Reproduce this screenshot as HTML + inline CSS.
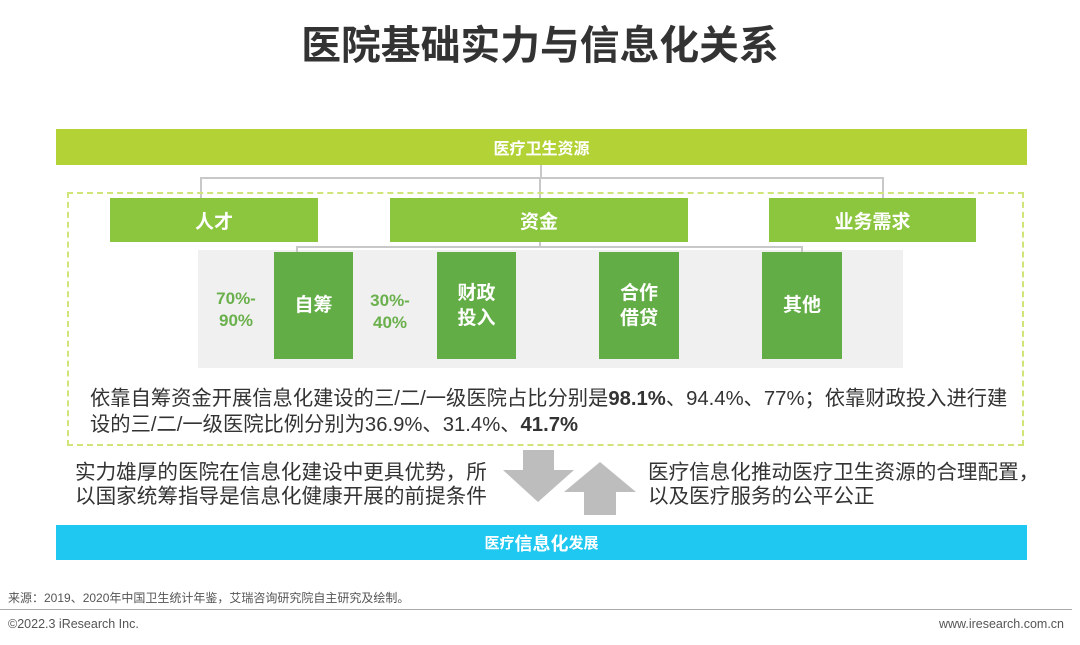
<!DOCTYPE html>
<html><head><meta charset="utf-8"><style>
*{margin:0;padding:0;box-sizing:border-box}
body{width:1080px;height:645px;background:#fff;position:relative;overflow:hidden;font-family:"Liberation Sans","Noto Sans CJK SC",sans-serif;color:#333}
.a{position:absolute}
.c{display:flex;align-items:center;justify-content:center;text-align:center;color:#fff;font-weight:bold}
.g{background:#8cc63f;font-size:19px}
.d{background:#62ad45;font-size:19px;line-height:25px}
.p{color:#6ab04c;font-weight:bold;font-size:17px;line-height:22px;text-align:center}
.t{font-size:20.6px;line-height:24px;color:#333;white-space:nowrap}
.ln{background:#c8c8c8}
</style></head><body>
<div class="a" style="left:0;top:21px;width:1080px;text-align:center;font-size:39.8px;font-weight:bold;color:#333;line-height:50px">医院基础实力与信息化关系</div>
<div class="a c" style="left:56px;top:129px;width:971px;height:36px;background:#b2d235;font-size:16px">医疗卫生资源</div>
<div class="a ln" style="left:540px;top:165px;width:2px;height:13px"></div>
<div class="a ln" style="left:200px;top:177px;width:684px;height:2px"></div>
<div class="a ln" style="left:200px;top:177px;width:2px;height:21px"></div>
<div class="a ln" style="left:539px;top:177px;width:2px;height:21px"></div>
<div class="a ln" style="left:882px;top:177px;width:2px;height:21px"></div>
<div class="a" style="left:67px;top:192px;width:957px;height:254px;border:2px dashed #cfe57a"></div>
<div class="a c g" style="left:110px;top:198px;width:208px;height:44px">人才</div>
<div class="a c g" style="left:390px;top:198px;width:298px;height:44px">资金</div>
<div class="a c g" style="left:769px;top:198px;width:207px;height:44px">业务需求</div>
<div class="a" style="left:198px;top:250px;width:705px;height:118px;background:#f0f0f0"></div>
<div class="a ln" style="left:539px;top:242px;width:2px;height:5px"></div>
<div class="a ln" style="left:296px;top:246px;width:507px;height:2px"></div>
<div class="a ln" style="left:296px;top:246px;width:2px;height:6px"></div>
<div class="a ln" style="left:801px;top:246px;width:2px;height:6px"></div>
<div class="a c d" style="left:274px;top:252px;width:79px;height:107px">自筹</div>
<div class="a c d" style="left:437px;top:252px;width:79px;height:107px">财政<br>投入</div>
<div class="a c d" style="left:599px;top:252px;width:80px;height:107px">合作<br>借贷</div>
<div class="a c d" style="left:762px;top:252px;width:80px;height:107px">其他</div>
<div class="a p" style="left:206px;top:288px;width:60px">70%-<br>90%</div>
<div class="a p" style="left:360px;top:290px;width:60px">30%-<br>40%</div>
<div class="a t" style="left:90px;top:386px;font-size:20.3px;line-height:26px">依靠自筹资金开展信息化建设的三/二/一级医院占比分别是<b>98.1%</b>、94.4%、77%；依靠财政投入进行建<br>设的三/二/一级医院比例分别为36.9%、31.4%、<b>41.7%</b></div>
<div class="a t" style="left:75px;top:461px">实力雄厚的医院在信息化建设中更具优势，所<br>以国家统筹指导是信息化健康开展的前提条件</div>
<div class="a t" style="left:648px;top:461px">医疗信息化推动医疗卫生资源的合理配置，<br>以及医疗服务的公平公正</div>
<svg class="a" style="left:500px;top:448px" width="140" height="70"><polygon points="17,2 48,2 48,22 68,22 32,54 -3,22 17,22" fill="#bdbdbd" transform="translate(6,0)"/><polygon points="100,14 136,44 116,44 116,67 84,67 84,44 64,44" fill="#bdbdbd"/></svg>
<div class="a c" style="left:56px;top:525px;width:971px;height:35px;background:#1fc8f0;font-size:15px">医疗<span style="font-size:18px">信息化</span>发展</div>
<div class="a" style="left:8px;top:589px;font-size:12px;color:#555">来源：2019、2020年中国卫生统计年鉴，艾瑞咨询研究院自主研究及绘制。</div>
<div class="a" style="left:0;top:609px;width:1072px;height:1px;background:#aaa"></div>
<div class="a" style="left:8px;top:617px;font-size:12.5px;color:#555">©2022.3 iResearch Inc.</div>
<div class="a" style="right:16px;top:617px;font-size:12.5px;color:#555">www.iresearch.com.cn</div>
</body></html>
